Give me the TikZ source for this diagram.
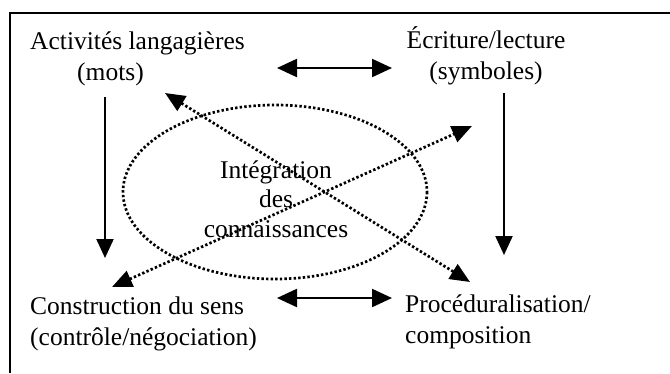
\documentclass[tikz,border=0pt]{standalone}
\usepackage{fontspec}
\setmainfont{Liberation Serif}
\usetikzlibrary{arrows.meta,positioning}

\begin{document}
\begin{tikzpicture}[x=1pt,y=-1pt,
  label/.style={inner sep=0pt,font=\fontsize{25.5}{30.5}\selectfont},
  flow/.style={line width=2.2pt,{Triangle[length=20pt,width=18pt]}-{Triangle[length=20pt,width=18pt]}},
  down/.style={line width=2.2pt,-{Triangle[length=19pt,width=17pt]}},
  link/.style={line width=2.7pt,dash pattern=on 2.4pt off 2.2pt,{Triangle[length=20pt,width=17pt]}-{Triangle[length=20pt,width=17pt]}},
  ring/.style={line width=2.7pt,dash pattern=on 2.4pt off 2.2pt}]
\useasboundingbox (0,0) rectangle (670,373);
% cadre
\draw[line width=2pt] (670,13) -- (10,13) -- (10,373);
% les quatre pôles (base = dernière ligne)
\node[label,anchor=base west,align=left] (mots) at (30,80) {Activités langagières\\\hspace*{47pt}(mots)};
\node[label,anchor=base,align=center] (symb) at (486,79) {Écriture/lecture\\(symboles)};
\node[label,anchor=base west,align=left] (sens) at (30,345) {Construction du sens\\(contrôle/négociation)};
\node[label,anchor=base west,align=left] (proc) at (405,343) {Proc\'eduralisation/\\composition};
% au centre
\draw[ring] (275,192) ellipse [x radius=152,y radius=87];
\node[label,anchor=base,align=center,font=\fontsize{25.5}{29.5}\selectfont] (integ) at (276,237) {Intégration\\des\\connaissances};
% bouts des flèches
\coordinate (hautG) at (277,68);   \coordinate (hautD) at (392,68);
\coordinate (basG) at (277,298);   \coordinate (basD) at (392,298);
\coordinate (gHaut) at (105,97);   \coordinate (gBas) at (105,258);
\coordinate (dHaut) at (504,93);   \coordinate (dBas) at (504,255);
\coordinate (x1a) at (165,93);     \coordinate (x1b) at (470,282);
\coordinate (x2a) at (112,287);    \coordinate (x2b) at (472,126);
\draw[flow] (hautG) -- (hautD);
\draw[flow] (basG) -- (basD);
\draw[down] (gHaut) -- (gBas);
\draw[down] (dHaut) -- (dBas);
\draw[link] (x1a) -- (x1b);
\draw[link] (x2a) -- (x2b);
\end{tikzpicture}
\end{document}
